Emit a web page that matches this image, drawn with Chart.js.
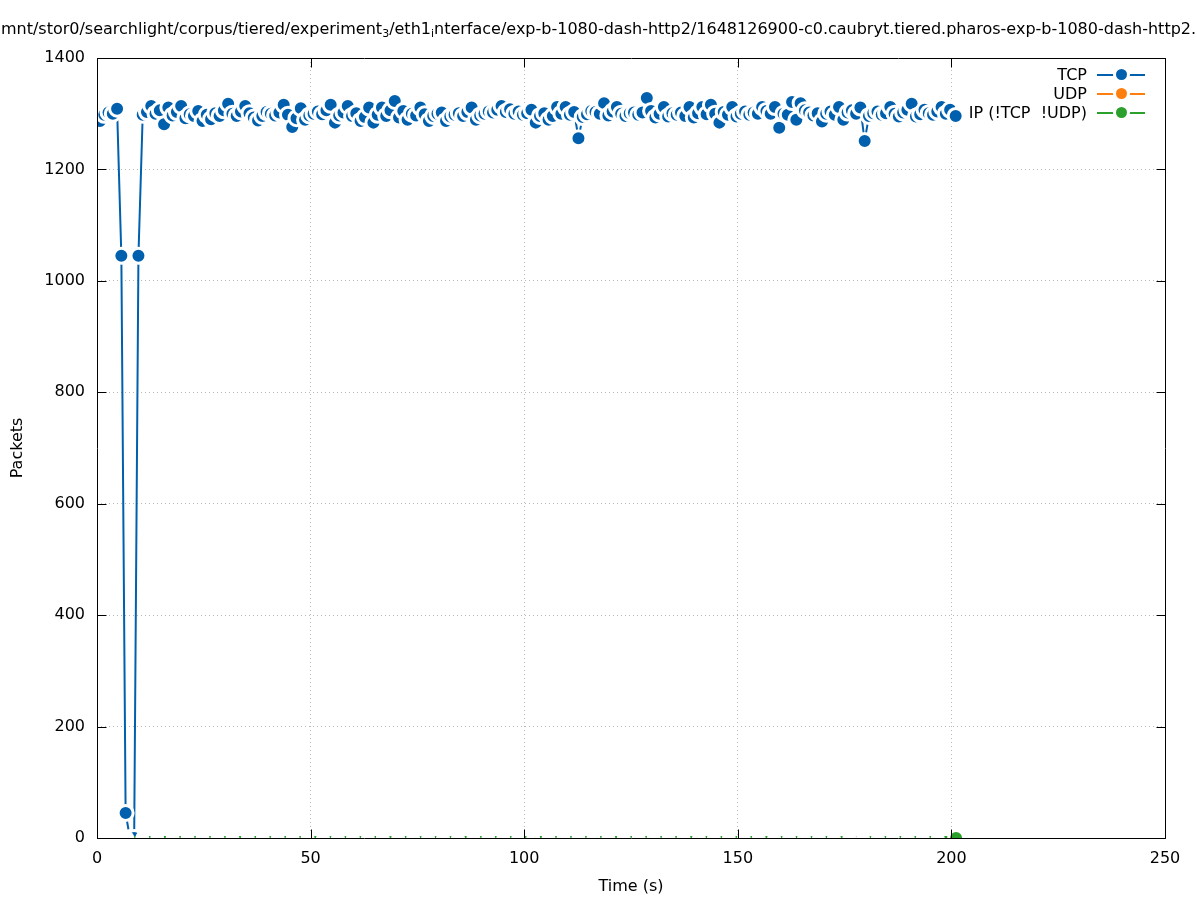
<!DOCTYPE html>
<html>
<head>
<meta charset="utf-8">
<script src="https://cdn.jsdelivr.net/npm/chart.js@4.4.1/dist/chart.umd.min.js"></script>
<style>
html,body{margin:0;padding:0;background:#fff;width:1197px;height:900px;overflow:hidden;font-family:"DejaVu Sans",sans-serif;}
#wrap{position:relative;width:1197px;height:900px;}
canvas{position:absolute;left:0;top:0;}
#title{position:absolute;left:0;top:18px;width:1197px;height:22px;display:flex;justify-content:center;overflow:hidden;white-space:nowrap;font-size:16px;line-height:22px;color:#000;z-index:2;}
#title span{flex:none;}
#title sub{font-size:11px;vertical-align:-3px;line-height:0;}
.lg-row{position:absolute;left:0;width:1197px;height:19px;font-size:16px;line-height:19px;color:#000;z-index:2;}
.lg-text{position:absolute;right:110px;top:0;white-space:pre;}
.lg-sample{position:absolute;left:1097px;top:0;width:48px;height:19px;}
.lg-line{position:absolute;left:0;top:8.5px;width:48px;height:2px;}
.lg-dot{position:absolute;left:18.5px;top:4px;width:11px;height:11px;border-radius:50%;box-shadow:0 0 0 3px #fff;}
</style>
</head>
<body>
<div id="wrap">
<div id="title"><span>mnt/stor0/searchlight/corpus/tiered/experiment<sub>3</sub>/eth1<sub>i</sub>nterface/exp-b-1080-dash-http2/1648126900-c0.caubryt.tiered.pharos-exp-b-1080-dash-http2.</span></div>
<canvas id="c" width="1197" height="900"></canvas>
<div id="legend"></div>
</div>
<script>
// ---- data ----
const seriesLabels = ['TCP', 'UDP', 'IP (!TCP  !UDP)'];
const seriesColors = ['#0060ad', '#ff7f0e', '#2ca02c'];

const tcpTimes = [
  0.7,1.7,2.7,3.7,4.7,5.7,6.7,7.7,8.7,9.7,
  10.7,11.7,12.7,13.7,14.7,15.7,16.7,17.7,18.7,19.7,
  20.7,21.7,22.7,23.7,24.7,25.7,26.7,27.7,28.7,29.7,
  30.7,31.7,32.7,33.7,34.7,35.7,36.7,37.7,38.7,39.7,
  40.7,41.7,42.7,43.7,44.7,45.7,46.7,47.7,48.7,49.7,
  50.7,51.7,52.7,53.7,54.7,55.7,56.7,57.7,58.7,59.7,
  60.7,61.7,62.7,63.7,64.7,65.7,66.7,67.7,68.7,69.7,
  70.7,71.7,72.7,73.7,74.7,75.7,76.7,77.7,78.7,79.7,
  80.7,81.7,82.7,83.7,84.7,85.7,86.7,87.7,88.7,89.7,
  90.7,91.7,92.7,93.7,94.7,95.7,96.7,97.7,98.7,99.7,
  100.7,101.7,102.7,103.7,104.7,105.7,106.7,107.7,108.7,109.7,
  110.7,111.7,112.7,113.7,114.7,115.7,116.7,117.7,118.7,119.7,
  120.7,121.7,122.7,123.7,124.7,125.7,126.7,127.7,128.7,129.7,
  130.7,131.7,132.7,133.7,134.7,135.7,136.7,137.7,138.7,139.7,
  140.7,141.7,142.7,143.7,144.7,145.7,146.7,147.7,148.7,149.7,
  150.7,151.7,152.7,153.7,154.7,155.7,156.7,157.7,158.7,159.7,
  160.7,161.7,162.7,163.7,164.7,165.7,166.7,167.7,168.7,169.7,
  170.7,171.7,172.7,173.7,174.7,175.7,176.7,177.7,178.7,179.7,
  180.7,181.7,182.7,183.7,184.7,185.7,186.7,187.7,188.7,189.7,
  190.7,191.7,192.7,193.7,194.7,195.7,196.7,197.7,198.7,199.7,
  201.0
];
const tcpPackets = [
  1287,1298,1302,1300,1309,1045,45,0,0,1045,
  1298,1303,1314,1300,1306,1281,1311,1297,1303,1314,
  1292,1299,1296,1305,1287,1298,1290,1301,1296,1306,
  1318,1300,1296,1304,1314,1301,1293,1288,1296,1303,
  1300,1297,1302,1316,1298,1276,1292,1310,1289,1297,
  1300,1304,1299,1306,1316,1284,1297,1302,1314,1296,
  1301,1287,1294,1311,1284,1298,1311,1296,1306,1323,
  1293,1305,1289,1300,1297,1311,1299,1287,1296,1300,
  1302,1287,1295,1298,1301,1296,1303,1311,1289,1297,
  1300,1304,1302,1307,1314,1303,1308,1300,1304,1298,
  1301,1307,1284,1296,1301,1289,1296,1312,1300,1312,
  1298,1303,1256,1294,1299,1305,1303,1300,1319,1297,
  1304,1312,1300,1296,1301,1302,1298,1302,1328,1305,
  1293,1300,1312,1295,1301,1298,1302,1296,1312,1293,
  1301,1312,1299,1316,1300,1284,1303,1298,1312,1295,
  1300,1304,1298,1302,1300,1312,1305,1300,1312,1275,
  1300,1298,1321,1289,1319,1306,1302,1297,1301,1286,
  1300,1304,1298,1312,1289,1302,1306,1300,1311,1251,
  1296,1301,1304,1298,1301,1312,1300,1295,1302,1307,
  1318,1295,1299,1307,1301,1298,1304,1312,1300,1307,
  1296
];
const udpTimes = [];
const udpPackets = [];
const ipTimes = [
  7.1,10.6,14.1,17.7,21.2,24.7,28.2,31.7,35.3,38.8,
  42.3,45.8,49.3,52.9,56.4,59.9,63.4,66.9,70.5,74.0,
  77.5,81.0,84.5,88.1,91.6,95.1,98.6,102.1,105.7,109.2,
  112.7,116.2,119.7,123.3,126.8,130.3,133.8,137.3,140.9,144.4,
  147.9,151.4,154.9,158.5,162.0,165.5,169.0,172.5,176.1,179.3,
  182.8,186.3,189.8,193.3,196.8,201.1
];
const ipPackets = [
  0,0,0,0,0,0,0,0,0,0,
  0,0,0,0,0,0,0,0,0,0,
  0,0,0,0,0,0,0,0,0,0,
  0,0,0,0,0,0,0,0,0,0,
  0,0,0,0,0,0,0,0,0,0,
  0,0,0,0,0,0
];
const xTickValues = [0, 50, 100, 150, 200, 250];
const yTickValues = [0, 200, 400, 600, 800, 1000, 1200, 1400];
const xLabel = 'Time (s)';
const yLabel = 'Packets';

// ---- chart ----
const FONT = 'DejaVu Sans';
const pts = (xs, ys) => xs.map((x, i) => ({x: x, y: ys[i]}));
const lastIp = ipPackets.length - 1;

const frame = {
  id: 'frame',
  afterDatasetsDraw(chart) {
    const {ctx, chartArea: a, scales} = chart;
    ctx.save();
    ctx.strokeStyle = '#000';
    ctx.lineWidth = 1;
    const L = Math.round(a.left) + 0.5, R = Math.round(a.right) + 0.5;
    const T = Math.round(a.top) + 0.5, B = Math.round(a.bottom) + 0.5;
    ctx.beginPath();
    ctx.rect(L, T, R - L, B - T);
    const len = 9;
    xTickValues.forEach(v => {
      const px = Math.round(scales.x.getPixelForValue(v)) + 0.5;
      ctx.moveTo(px, B); ctx.lineTo(px, B - len);
      ctx.moveTo(px, T); ctx.lineTo(px, T + len);
    });
    yTickValues.forEach(v => {
      const py = Math.round(scales.y.getPixelForValue(v)) + 0.5;
      ctx.moveTo(L, py); ctx.lineTo(L + len, py);
      ctx.moveTo(R, py); ctx.lineTo(R - len, py);
    });
    ctx.stroke();
    ctx.restore();
  }
};

const chart = new Chart(document.getElementById('c'), {
  type: 'line',
  data: {
    datasets: [
      {
        label: seriesLabels[0], data: pts(tcpTimes, tcpPackets),
        borderColor: seriesColors[0], backgroundColor: seriesColors[0], borderWidth: 2,
        pointRadius: 7.5, pointBorderWidth: 3, pointBorderColor: '#ffffff',
        pointBackgroundColor: seriesColors[0], pointHoverRadius: 7.5, tension: 0, order: 1
      },
      {
        label: seriesLabels[1], data: pts(udpTimes, udpPackets),
        borderColor: seriesColors[1], backgroundColor: seriesColors[1], borderWidth: 2,
        pointRadius: 7.5, pointBorderWidth: 3, pointBorderColor: '#ffffff',
        pointBackgroundColor: seriesColors[1], order: 1
      },
      {
        label: seriesLabels[2], data: pts(ipTimes, ipPackets),
        borderColor: seriesColors[2], backgroundColor: seriesColors[2], borderWidth: 4,
        pointRadius: ipPackets.map((v, i) => i === lastIp ? 7.5 : 7),
        pointBorderWidth: ipPackets.map((v, i) => i === lastIp ? 3 : 0),
        pointBorderColor: '#ffffff',
        pointBackgroundColor: ipPackets.map((v, i) => i === lastIp ? seriesColors[2] : '#ffffff'),
        tension: 0, order: 0
      }
    ]
  },
  options: {
    responsive: false, animation: false, events: [], devicePixelRatio: 1,
    layout: {padding: {left: 0, right: 32, top: 58, bottom: 0}},
    plugins: {legend: {display: false}, title: {display: false}, tooltip: {enabled: false}},
    scales: {
      x: {
        type: 'linear', min: 0, max: 250,
        afterBuildTicks(s) { s.ticks = xTickValues.map(v => ({value: v})); },
        afterFit(s) { s.height = 62; },
        ticks: {color: '#000', padding: 11, maxRotation: 0, font: {family: FONT, size: 16},
                callback: v => String(v)},
        grid: {color: '#b8b8b8', lineWidth: 1, drawTicks: false},
        border: {display: false, dash: [1, 3]},
        title: {display: true, text: xLabel, color: '#000', font: {family: FONT, size: 16}, padding: {top: 0, bottom: 4}}
      },
      y: {
        type: 'linear', min: 0, max: 1400,
        afterBuildTicks(s) { s.ticks = yTickValues.map(v => ({value: v})); },
        afterFit(s) { s.width = 97; },
        ticks: {color: '#000', padding: 12, font: {family: FONT, size: 16},
                callback: v => String(v)},
        grid: {color: '#b8b8b8', lineWidth: 1, drawTicks: false},
        border: {display: false, dash: [1, 3]},
        title: {display: true, text: yLabel, color: '#000', font: {family: FONT, size: 16}, padding: {top: 8, bottom: 0}}
      }
    }
  },
  plugins: [frame]
});

// ---- legend (HTML, built from datasets) ----
const lg = document.getElementById('legend');
chart.data.datasets.forEach((ds, k) => {
  const row = document.createElement('div');
  row.className = 'lg-row';
  row.style.top = (65 + k * 19) + 'px';
  const t = document.createElement('span');
  t.className = 'lg-text';
  t.textContent = ds.label;
  const s = document.createElement('span');
  s.className = 'lg-sample';
  const line = document.createElement('span');
  line.className = 'lg-line';
  line.style.background = ds.borderColor;
  const dot = document.createElement('span');
  dot.className = 'lg-dot';
  dot.style.background = ds.borderColor;
  s.appendChild(line); s.appendChild(dot);
  row.appendChild(t); row.appendChild(s);
  lg.appendChild(row);
});
</script>
</body>
</html>
